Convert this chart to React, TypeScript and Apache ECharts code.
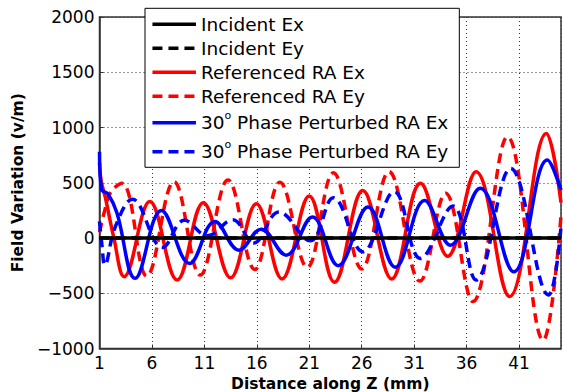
import React, { useEffect, useRef } from 'react';
import * as echarts from 'echarts';

// ---- data ----
const seriesNames = [
  'Incident Ex',
  'Incident Ey',
  'Referenced RA Ex',
  'Referenced RA Ey',
  '30o Phase Perturbed RA Ex',
  '30o Phase Perturbed RA Ey',
];

const incidentZ = [1, 45];
const incidentExV = [0, 0];
const incidentEyV = [0, 0];

const refExZ = [1, 1.15, 1.55, 2.35, 3.35, 5.8, 8.4, 10.9, 13.5, 15.95, 18.4, 21.0, 23.4, 26.1, 28.85, 31.6, 34.2, 36.9, 40.1, 43.6, 45];
const refExV = [680, 520, 370, 10, -350, 330, -380, 320, -360, 310, -370, 380, -400, 430, -370, 495, -165, 600, -530, 945, 320];

const refEyZ = [1, 1.5, 2.1, 3.15, 5.5, 8.1, 10.6, 13.25, 15.8, 18.2, 20.8, 23.3, 26.0, 28.6, 31.55, 34.0, 36.6, 39.9, 43.3, 45];
const refEyV = [50, 250, 420, 495, -345, 510, -335, 525, -285, 505, -265, 590, -280, 600, -390, 405, -575, 915, -925, 200];

const phaseExZ = [1, 1.2, 1.8, 2.65, 4.4, 6.9, 9.6, 12.0, 14.3, 16.4, 18.8, 21.3, 23.75, 26.6, 29.2, 32.0, 34.45, 37.3, 40.5, 43.7, 45];
const phaseExV = [780, 440, 400, 230, -365, 250, -230, 150, -110, 80, -155, 190, -250, 280, -265, 340, -65, 450, -305, 705, 435];

const phaseEyZ = [1, 1.25, 1.5, 2.5, 4.15, 7.0, 9.1, 11.3, 13.7, 15.7, 18.1, 21.1, 23.3, 26.1, 29.1, 31.6, 34.7, 36.9, 40.2, 43.8, 45];
const phaseEyV = [150, -80, -245, 100, 350, -85, 160, 20, 165, -45, 235, -25, 365, -125, 420, -185, 290, -380, 630, -515, 100];

const xMin = 1;
const xMax = 45;
const xStep = 5;
const yMin = -1000;
const yMax = 2000;
const yStep = 500;

const xTitle = 'Distance along Z (mm)';
const yTitle = 'Field Variation (v/m)';

// ---- helpers ----
const FONT = '"DejaVu Sans", "Liberation Sans", Arial, sans-serif';
const pairs = (z: number[], v: number[]) => z.map((x, i) => [x, v[i]]);
const DASH = [10, 6];

function buildOption() {
  const lineSeries = (
    name: string,
    data: number[][],
    color: string,
    dashed: boolean,
    z: number,
    smooth: number | boolean
  ) => ({
    type: 'line',
    name,
    data,
    symbol: 'none',
    smooth,
    z,
    itemStyle: { color },
    lineStyle: { color, width: 3.5, type: dashed ? DASH : 'solid', cap: 'butt' },
    emphasis: { disabled: true },
  });

  return {
    animation: false,
    backgroundColor: '#fff',
    textStyle: { fontFamily: FONT },
    grid: {
      left: 99.5,
      right: 2,
      top: 17,
      bottom: 43.5,
      outerBoundsMode: 'none',
      containLabel: false,
      show: true,
      borderColor: '#333',
      borderWidth: 1.5,
      backgroundColor: '#fff',
    },
    legend: {
      show: true,
      orient: 'vertical',
      left: 145,
      top: 8.3,
      padding: [6, 11, 3, 5.7],
      itemWidth: 43.5,
      itemHeight: 14,
      itemGap: 4,
      backgroundColor: '#fff',
      borderColor: '#000',
      borderWidth: 1,
      selectedMode: false,
      data: seriesNames,
      lineStyle: { width: 3.5 },
      itemStyle: { opacity: 0 },
      formatter: (name: string) =>
        name.startsWith('30o') ? '30{sup|o}{b|' + name.slice(3) + '}' : name,
      textStyle: {
        fontFamily: FONT,
        fontSize: 18.5,
        color: '#000',
        lineHeight: 20,
        rich: {
          sup: { fontFamily: FONT, fontSize: 11, lineHeight: 12, verticalAlign: 'top', color: '#000' },
          b: { fontFamily: FONT, fontSize: 18.5, lineHeight: 25, color: '#000' },
        },
      },
    },
    xAxis: {
      type: 'value',
      min: xMin,
      max: xMax,
      interval: xStep,
      name: xTitle,
      nameLocation: 'middle',
      nameGap: 25,
      nameTextStyle: { fontFamily: FONT, fontWeight: 'bold', fontSize: 15.5, color: '#000' },
      axisLine: { show: true, onZero: false, lineStyle: { color: '#333', width: 1.5 } },
      axisTick: { show: true, inside: true, length: 4, lineStyle: { color: '#333', width: 1 } },
      axisLabel: { color: '#000', fontSize: 17, fontFamily: FONT, margin: 6, showMaxLabel: false },
      splitLine: { show: true, lineStyle: { color: '#333', type: [1, 3], width: 1 } },
    },
    yAxis: {
      type: 'value',
      min: yMin,
      max: yMax,
      interval: yStep,
      name: yTitle,
      nameLocation: 'middle',
      nameGap: 67,
      nameTextStyle: { fontFamily: FONT, fontWeight: 'bold', fontSize: 15.5, color: '#000' },
      axisLine: { show: true, onZero: false, lineStyle: { color: '#333', width: 1.5 } },
      axisTick: { show: true, inside: true, length: 4, lineStyle: { color: '#333', width: 1 } },
      axisLabel: {
        color: '#000',
        fontSize: 17,
        fontFamily: FONT,
        margin: 5,
        formatter: (v: number) => (v < 0 ? '\u2212' + Math.abs(v) : String(v)),
      },
      splitLine: { show: true, lineStyle: { color: '#333', type: [1, 3], width: 1 } },
    },
    series: [
      lineSeries(seriesNames[0], pairs(incidentZ, incidentExV), '#000', false, 5, false),
      lineSeries(seriesNames[1], pairs(incidentZ, incidentEyV), '#000', true, 4, false),
      lineSeries(seriesNames[2], pairs(refExZ, refExV), '#ff0000', false, 2, 0.4),
      lineSeries(seriesNames[3], pairs(refEyZ, refEyV), '#ff0000', true, 2, 0.4),
      lineSeries(seriesNames[4], pairs(phaseExZ, phaseExV), '#0000ff', false, 3, 0.4),
      lineSeries(seriesNames[5], pairs(phaseEyZ, phaseEyV), '#0000ff', true, 3, 0.4),
    ],
  };
}

export default function App() {
  const ref = useRef<HTMLDivElement>(null);
  useEffect(() => {
    if (!ref.current) return;
    const chart = echarts.init(ref.current, null, { renderer: 'svg' });
    chart.setOption(buildOption() as any);
    return () => chart.dispose();
  }, []);
  return (
    <div
      ref={ref}
      style={{ position: 'fixed', left: 0, top: 0, width: 563, height: 392, background: '#fff' }}
    />
  );
}
